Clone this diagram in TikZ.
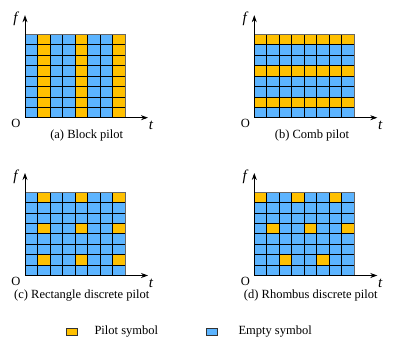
\documentclass[tikz,border=0pt]{standalone}
\usepackage{fontspec}
\setmainfont{Liberation Serif}
\usetikzlibrary{arrows.meta}
\definecolor{pilot}{HTML}{FFC000}
\definecolor{empty}{HTML}{5CB4FF}
\tikzset{
  axis/.style={line width=0.8pt,-{Stealth[length=7pt,width=5pt]}},
  gridline/.style={line width=0.7pt,black},
  lbl/.style={inner sep=0pt,font=\fontsize{12.5}{14}\selectfont},
  axlbl/.style={inner sep=0pt,font=\fontsize{15}{16}\selectfont\itshape},
  legbox/.style={draw=black!80,line width=0.6pt,minimum width=11pt,minimum height=7.5pt,inner sep=0pt}
}
% #1 origin x, #2 origin y, #3 pilot list (col/row, row counted from top), #4 name
\newcommand{\pilotgrid}[4]{%
  \begin{scope}[shift={(#1,#2)}]
    \fill[empty] (0,0) rectangle (100,-83.4);
    \foreach \c/\r in {#3} {
      \fill[pilot] (\c*12.5,-83.4+\r*10.425) rectangle (\c*12.5+12.5,-83.4+\r*10.425+10.425);
    }
    \foreach \i in {1,...,7} {
      \draw[gridline] (\i*12.5,0) -- (\i*12.5,-83.4);
      \draw[gridline] (0,-\i*10.425) -- (100,-\i*10.425);
    }
    \draw[line width=0.7pt,black!60] (0,-83.4) rectangle (100,0);
    \coordinate (#4o) at (0,0);
    \coordinate (#4f) at (0,-102.5);
    \coordinate (#4t) at (123,0);
    \draw[axis] (#4o) -- (#4f);
    \draw[axis] (#4o) -- (#4t);
    \node[lbl] (#4O) at (-9,5.5) {O};
    \node[axlbl] (#4fl) at (-9.5,-99) {f};
    \node[axlbl] (#4tl) at (126,8) {t};
  \end{scope}}
\begin{document}
\begin{tikzpicture}[x=1pt,y=-1pt]
\useasboundingbox (0,0) rectangle (415,343);
\pilotgrid{25}{117.7}{1/0,1/1,1/2,1/3,1/4,1/5,1/6,1/7,4/0,4/1,4/2,4/3,4/4,4/5,4/6,4/7,7/0,7/1,7/2,7/3,7/4,7/5,7/6,7/7}{a}
\pilotgrid{254.3}{117.7}{0/0,1/0,2/0,3/0,4/0,5/0,6/0,7/0,0/3,1/3,2/3,3/3,4/3,5/3,6/3,7/3,0/6,1/6,2/6,3/6,4/6,5/6,6/6,7/6}{b}
\pilotgrid{25}{275.5}{1/0,4/0,7/0,1/3,4/3,7/3,1/6,4/6,7/6}{c}
\pilotgrid{254.3}{275.5}{0/0,3/0,6/0,1/3,4/3,7/3,2/6,5/6}{d}
\node[lbl] (capa) at (86.7,135.5) {(a) Block pilot};
\node[lbl] (capb) at (312,135.5) {(b) Comb pilot};
\node[lbl] (capc) at (81.7,295.5) {(c) Rectangle discrete pilot};
\node[lbl] (capd) at (310.8,295.5) {(d) Rhombus discrete pilot};
\node[legbox,fill=pilot] (legp) at (72,332) {};
\node[lbl,anchor=west] (legpt) at (94.3,332) {Pilot symbol};
\node[legbox,fill=empty] (lege) at (211.5,332) {};
\node[lbl,anchor=west] (leget) at (238.3,332) {Empty symbol};
\end{tikzpicture}
\end{document}
